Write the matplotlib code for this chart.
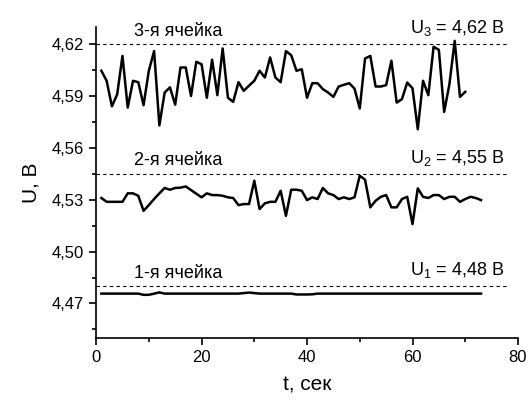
import matplotlib
matplotlib.use("Agg")
import matplotlib.pyplot as plt
import numpy as np
from matplotlib.ticker import MultipleLocator, FuncFormatter

plt.rcParams['font.family'] = ['Liberation Sans', 'DejaVu Sans']
plt.rcParams['mathtext.fontset'] = 'custom'
plt.rcParams['mathtext.rm'] = 'Liberation Sans'
plt.rcParams['mathtext.it'] = 'Liberation Sans'

# напряжение 3-й ячейки, t = 1..70 с
u3 = [4.6046, 4.5988, 4.5840, 4.5910, 4.6132, 4.5833, 4.5988, 4.5980, 4.5847, 4.6046,
      4.6160, 4.5730, 4.5920, 4.5950, 4.5850, 4.6065, 4.6065, 4.5900, 4.6098, 4.6084,
      4.5890, 4.6110, 4.5905, 4.6175, 4.5890, 4.5866, 4.5980, 4.5930, 4.5960, 4.5988,
      4.6046, 4.6007, 4.6123, 4.6007, 4.5980, 4.6160, 4.6136, 4.6046, 4.6055, 4.5890,
      4.5974, 4.5974, 4.5940, 4.5920, 4.5895, 4.5955, 4.5965, 4.5974, 4.5943, 4.5828,
      4.6117, 4.6132, 4.5955, 4.5955, 4.5963, 4.6104, 4.5862, 4.5882, 4.5978, 4.5945,
      4.5708, 4.5988, 4.5905, 4.6185, 4.6167, 4.5808, 4.5968, 4.6219, 4.5895, 4.5924]

# напряжение 2-й ячейки, t = 1..73 с
u2 = [4.5310, 4.5288, 4.5288, 4.5288, 4.5288, 4.5337, 4.5337, 4.5323, 4.5236, 4.5269,
      4.5304, 4.5337, 4.5368, 4.5358, 4.5368, 4.5370, 4.5377, 4.5356, 4.5335, 4.5314,
      4.5337, 4.5327, 4.5327, 4.5323, 4.5314, 4.5310, 4.5269, 4.5275, 4.5275, 4.5410,
      4.5246, 4.5279, 4.5288, 4.5288, 4.5352, 4.5207, 4.5358, 4.5358, 4.5352, 4.5298,
      4.5314, 4.5304, 4.5368, 4.5337, 4.5327, 4.5304, 4.5314, 4.5304, 4.5314, 4.5439,
      4.5416, 4.5256, 4.5294, 4.5317, 4.5327, 4.5256, 4.5256, 4.5304, 4.5317, 4.5159,
      4.5366, 4.5317, 4.5310, 4.5327, 4.5327, 4.5304, 4.5317, 4.5317, 4.5288, 4.5304,
      4.5317, 4.5310, 4.5298]

# напряжение 1-й ячейки, t = 1..73 с
u1 = [4.4757, 4.4757, 4.4757, 4.4757, 4.4757, 4.4757, 4.4757, 4.4757, 4.4750, 4.4750,
      4.4757, 4.4764, 4.4757, 4.4757, 4.4757, 4.4757, 4.4757, 4.4757, 4.4757, 4.4757,
      4.4757, 4.4757, 4.4757, 4.4757, 4.4757, 4.4757, 4.4757, 4.4760, 4.4763, 4.4760,
      4.4757, 4.4757, 4.4757, 4.4757, 4.4757, 4.4757, 4.4757, 4.4752, 4.4752, 4.4752,
      4.4753, 4.4757, 4.4757, 4.4757, 4.4757, 4.4757, 4.4757, 4.4757, 4.4757, 4.4757,
      4.4757, 4.4757, 4.4757, 4.4757, 4.4757, 4.4757, 4.4757, 4.4757, 4.4757, 4.4757,
      4.4757, 4.4757, 4.4757, 4.4757, 4.4757, 4.4757, 4.4757, 4.4757, 4.4757, 4.4757,
      4.4757, 4.4757, 4.4757]

levels = [4.62, 4.545, 4.48]
cell_names = ['3-я ячейка', '2-я ячейка', '1-я ячейка']
level_labels = ['U$_3$ = 4,62 В', 'U$_2$ = 4,55 В', 'U$_1$ = 4,48 В']

fig = plt.figure(figsize=(5.28, 4.01), dpi=100)
ax = fig.add_axes([0.182, 0.157, 0.799, 0.776])

for u in (u3, u2, u1):
    t = np.arange(1, len(u) + 1)
    ax.plot(t, u, color='black', lw=1.8)

for lev, name, lab in zip(levels, cell_names, level_labels):
    ax.plot([0, 78], [lev, lev], color='black', lw=0.8, linestyle=(0, (3, 3)))
    ax.text(7.2, lev + 0.0025, name, fontsize=13, va='bottom', ha='left')
    ax.text(59.5, lev + 0.0035, lab, fontsize=13, va='bottom', ha='left', clip_on=False)

ax.set_xlim(0, 80)
ax.set_ylim(4.45, 4.63)
ax.xaxis.set_major_locator(MultipleLocator(20))
ax.xaxis.set_minor_locator(MultipleLocator(10))
ax.yaxis.set_major_locator(MultipleLocator(0.03))
ax.yaxis.set_minor_locator(MultipleLocator(0.015))
ax.yaxis.set_major_formatter(FuncFormatter(lambda v, p: f'{v:.2f}'.replace('.', ',')))

for s in ('top', 'right'):
    ax.spines[s].set_visible(False)
for s in ('left', 'bottom'):
    ax.spines[s].set_linewidth(1.2)

ax.tick_params(which='major', direction='out', length=5, width=1.2, labelsize=12)
ax.tick_params(which='minor', direction='out', length=3, width=1.2)

ax.set_xlabel('t, сек', fontsize=15, labelpad=8)
ax.set_ylabel('U, В', fontsize=15, labelpad=8)

fig.savefig('out.png', dpi=100)
